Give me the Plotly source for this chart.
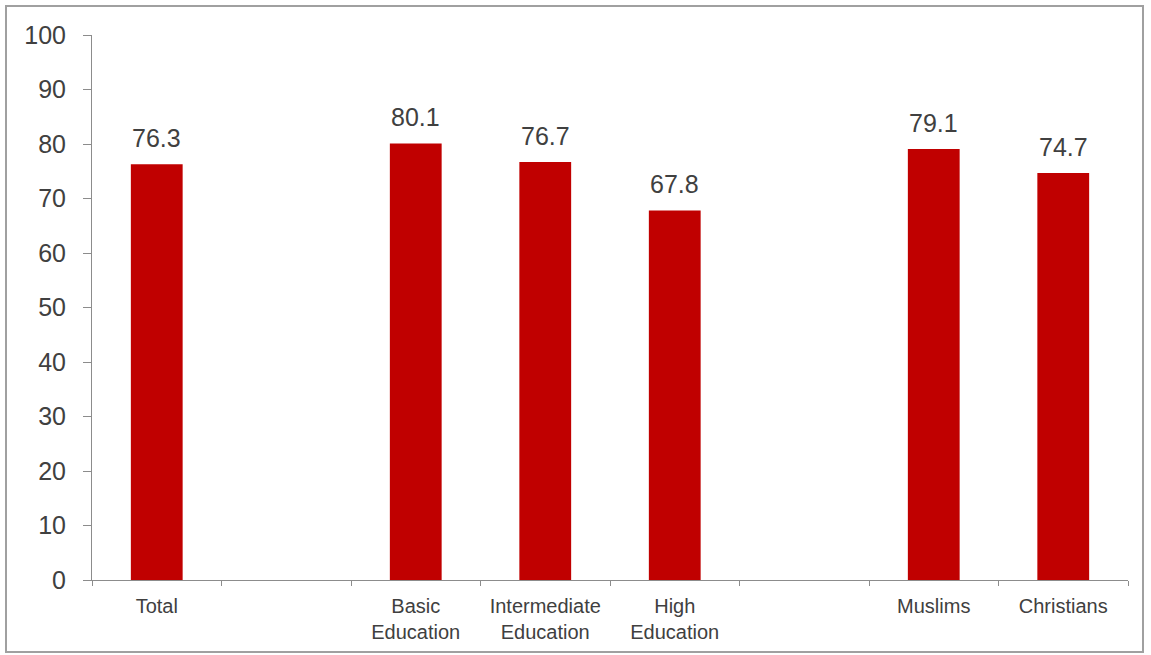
import plotly.graph_objects as go

categories = ["Total", " ", "Basic<br>Education", "Intermediate<br>Education",
              "High<br>Education", "  ", "Muslims", "Christians"]
values = [76.3, None, 80.1, 76.7, 67.8, None, 79.1, 74.7]
y_ticks = [0, 10, 20, 30, 40, 50, 60, 70, 80, 90, 100]

BAR = "#C00000"
TXT = "#404040"
AX = "#8C8C8C"
FONT = "Liberation Sans, Arial, sans-serif"

fig = go.Figure()
fig.add_trace(go.Bar(
    x=categories, y=values, marker=dict(color=BAR, line=dict(width=0)),
    width=0.4, hoverinfo="skip",
))

for c, v in zip(categories, values):
    if v is None:
        continue
    fig.add_annotation(x=c, y=v, text=f"{v:.1f}", showarrow=False,
                       yanchor="middle", yshift=26,
                       font=dict(family=FONT, size=25, color=TXT))

fig.update_layout(
    width=1151, height=655,
    margin=dict(l=92, r=23, t=35, b=75),
    paper_bgcolor="white", plot_bgcolor="white",
    showlegend=False,
    font=dict(family=FONT, color=TXT),
    xaxis=dict(
        type="category", categoryorder="array", categoryarray=categories,
        range=[-0.5, 7.5],
        showline=True, linecolor=AX, linewidth=1,
        ticks="outside", ticklen=5, tickcolor=AX, tickson="boundaries",
        showgrid=False, zeroline=False,
        tickfont=dict(family=FONT, size=20, color=TXT),
        ticklabelstandoff=8,
    ),
    yaxis=dict(
        range=[0, 100], tickvals=y_ticks,
        showline=True, linecolor=AX, linewidth=1,
        ticks="outside", ticklen=8, tickcolor=AX,
        showgrid=False, zeroline=False,
        tickfont=dict(family=FONT, size=25, color=TXT),
        ticklabelstandoff=12,
    ),
    shapes=[dict(type="rect", xref="paper", yref="paper",
                 x0=(6 - 92) / 1036, x1=(1143 - 92) / 1036,
                 y0=(580 - 652) / 545, y1=(580 - 6) / 545,
                 line=dict(color="#A0A0A0", width=2), layer="below")],
)

fig.write_html("out.html")
